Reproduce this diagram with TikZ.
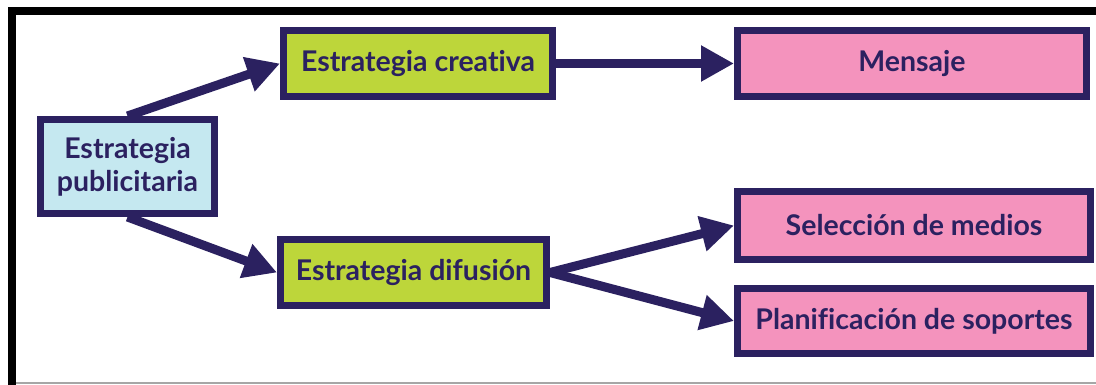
\documentclass[tikz,border=0pt]{standalone}
\usepackage{fontspec}
\setmainfont{Lato}[Ligatures={NoCommon}]
\usetikzlibrary{arrows.meta}
\definecolor{navy}{HTML}{2B2160}
\definecolor{lgreen}{HTML}{BDD63A}
\definecolor{lpink}{HTML}{F493BD}
\definecolor{lblue}{HTML}{C5E8F0}
\begin{document}
\begin{tikzpicture}[x=1pt,y=-1pt,
  box/.style={draw=navy,line width=7pt,inner sep=0pt,text=navy,
    font=\fontsize{28.5}{33}\selectfont\bfseries,align=center},
  conn/.style={draw=navy,line width=9pt,-{Triangle[length=33pt,width=34pt]}}]
\useasboundingbox (0,0) rectangle (1096,385);
\fill[white] (0,0) rectangle (1096,385);
% frame
\fill[black] (8,7) rectangle (1096,15);
\fill[black] (8,7) rectangle (16,385);
\draw[gray!70,line width=1.2pt] (16,383) -- (1096,383);
% boxes
\node[box,fill=lblue,minimum width=174pt,minimum height=94pt] (pub) at (127.5,166.5) {Estrategia\\publicitaria};
\node[box,fill=lgreen,minimum width=269pt,minimum height=66pt] (cre) at (418,63.5) {Estrategia creativa};
\node[box,fill=lgreen,minimum width=266pt,minimum height=66pt] (dif) at (413.5,272.5) {Estrategia difusión};
\node[box,fill=lpink,minimum width=349pt,minimum height=66pt] (men) at (912,63.5) {Mensaje};
\node[box,fill=lpink,minimum width=353pt,minimum height=68pt] (sel) at (914,225.5) {Selección de medios};
\node[box,fill=lpink,minimum width=353pt,minimum height=65pt] (pla) at (914,321) {Planificación de soportes};
% connectors
\draw[conn] (pub.north) -- (cre.west);
\draw[conn] (pub.south) -- (dif.west);
\draw[conn] (cre.east) -- (men.west);
\draw[conn] (dif.east) -- (sel.west);
\draw[conn] (dif.east) -- (pla.west);
\end{tikzpicture}
\end{document}
